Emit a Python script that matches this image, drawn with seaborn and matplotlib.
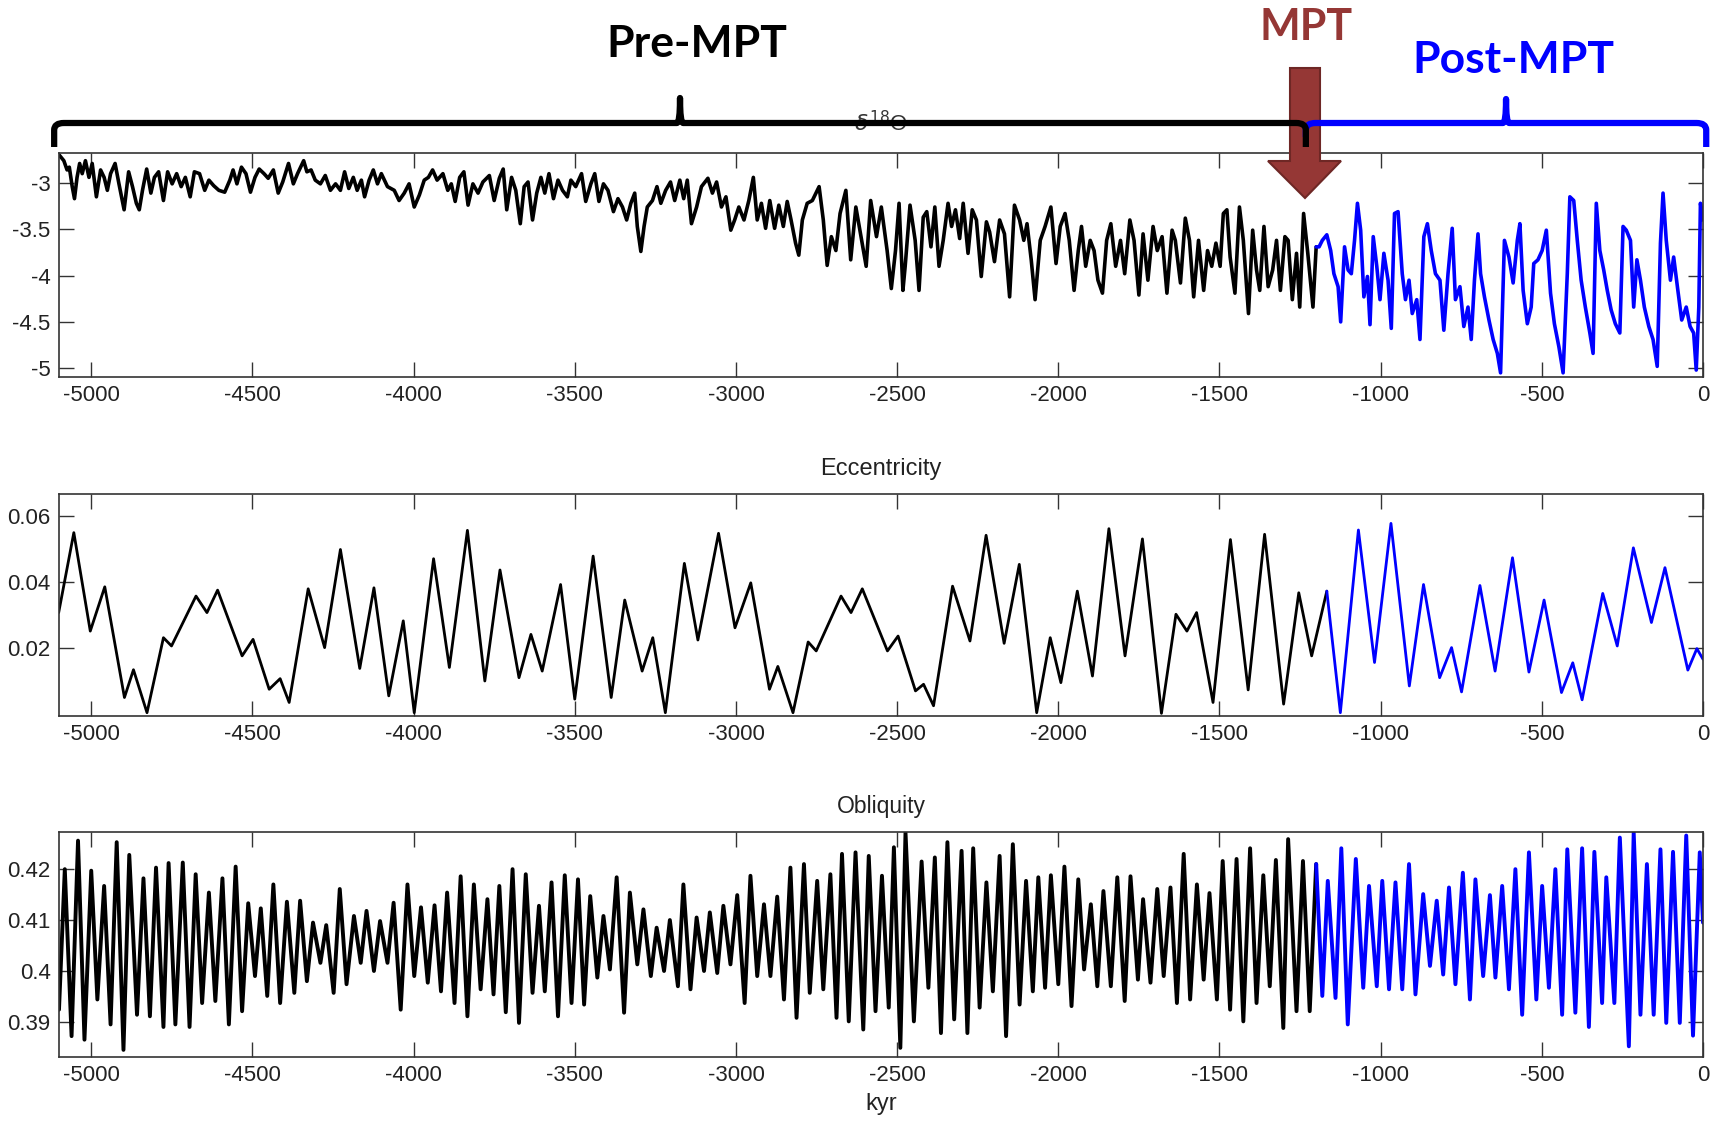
import numpy as np
import pandas as pd
import seaborn as sns
import matplotlib.pyplot as plt
from matplotlib.path import Path
from matplotlib.patches import PathPatch, Polygon
from matplotlib.transforms import blended_transform_factory

# ---- data (kyr before present) ----
MPT_KYR = -1200

d18o_kyr = [-5099, -5085, -5075, -5068, -5059, -5052, -5044, -5036, -5028, -5018, -5007, -4997, -4984, -4971,
            -4960, -4950, -4940, -4926, -4914, -4898, -4884, -4872, -4860, -4851, -4841, -4828, -4815, -4804,
            -4791, -4776, -4763, -4749, -4735, -4721, -4708, -4693, -4680, -4664, -4648, -4635, -4620, -4604,
            -4586, -4570, -4560, -4548, -4534, -4520, -4506, -4492, -4479, -4464, -4451, -4435, -4420, -4406,
            -4388, -4373, -4360, -4341, -4331, -4318, -4305, -4289, -4274, -4258, -4242, -4227, -4214, -4201,
            -4187, -4175, -4162, -4152, -4138, -4125, -4112, -4100, -4081, -4060, -4045, -4029, -4014, -3998,
            -3982, -3967, -3954, -3941, -3927, -3909, -3894, -3883, -3871, -3857, -3844, -3831, -3816, -3800,
            -3785, -3765, -3750, -3734, -3722, -3711, -3696, -3683, -3669, -3657, -3645, -3631, -3618, -3605,
            -3593, -3580, -3566, -3552, -3538, -3523, -3512, -3497, -3479, -3466, -3450, -3438, -3425, -3411,
            -3397, -3380, -3366, -3352, -3339, -3326, -3314, -3306, -3295, -3285, -3275, -3259, -3245, -3233,
            -3218, -3203, -3190, -3174, -3162, -3151, -3138, -3122, -3107, -3087, -3073, -3060, -3045, -3031,
            -3016, -3004, -2991, -2975, -2960, -2946, -2934, -2921, -2908, -2895, -2880, -2867, -2853, -2841,
            -2829, -2815, -2805, -2794, -2779, -2763, -2742, -2729, -2717, -2704, -2690, -2677, -2659, -2644,
            -2628, -2612, -2596, -2582, -2564, -2549, -2531, -2518, -2505, -2494, -2482, -2475, -2460, -2444,
            -2432, -2419, -2408, -2395, -2383, -2370, -2357, -2342, -2331, -2319, -2306, -2295, -2280, -2267,
            -2254, -2239, -2223, -2213, -2198, -2182, -2167, -2151, -2136, -2120, -2107, -2097, -2084, -2072,
            -2056, -2041, -2023, -2007, -1994, -1979, -1966, -1951, -1938, -1928, -1915, -1901, -1889, -1877,
            -1863, -1850, -1837, -1822, -1807, -1794, -1778, -1765, -1750, -1737, -1722, -1706, -1693, -1678,
            -1663, -1647, -1637, -1621, -1606, -1593, -1580, -1565, -1549, -1537, -1524, -1511, -1498, -1488,
            -1477, -1467, -1452, -1438, -1426, -1410, -1397, -1385, -1375, -1362, -1349, -1335, -1323, -1311,
            -1297, -1287, -1274, -1261, -1251, -1239, -1226, -1210, -1200, -1191, -1181, -1167, -1155, -1145,
            -1132, -1124, -1112, -1101, -1091, -1081, -1072, -1062, -1052, -1041, -1033, -1023, -1012, -1002,
            -990, -977, -967, -957, -946, -933, -923, -912, -902, -888, -878, -866, -855, -843, -830, -816,
            -804, -791, -778, -768, -754, -742, -729, -719, -709, -698, -690, -678, -664, -651, -638, -628,
            -616, -602, -589, -576, -568, -558, -545, -533, -525, -512, -499, -486, -473, -461, -447, -434,
            -421, -413, -401, -390, -378, -365, -351, -341, -331, -320, -308, -297, -285, -272, -258, -248,
            -238, -225, -215, -205, -194, -182, -168, -155, -142, -132, -124, -114, -101, -91, -78, -66,
            -52, -40, -29, -21, -13, -8, 0]
d18o_val = [-2.70, -2.76, -2.86, -2.83, -3.04, -3.17, -2.94, -2.79, -2.90, -2.76, -2.94, -2.79, -3.15, -2.86,
            -2.94, -3.08, -2.90, -2.79, -3.01, -3.29, -2.88, -3.04, -3.22, -3.29, -3.08, -2.85, -3.11, -2.94,
            -2.88, -3.19, -2.88, -3.01, -2.90, -3.04, -2.94, -3.15, -2.88, -2.90, -3.08, -2.97, -3.03, -3.08,
            -3.10, -2.97, -2.86, -3.01, -2.83, -2.90, -3.10, -2.94, -2.85, -2.90, -2.95, -2.86, -3.11, -2.99,
            -2.79, -3.01, -2.90, -2.76, -2.88, -2.86, -2.97, -3.01, -2.92, -3.08, -3.01, -3.08, -2.88, -3.06,
            -2.94, -3.08, -2.97, -3.15, -2.97, -2.86, -3.01, -2.90, -3.04, -3.08, -3.19, -3.11, -3.01, -3.26,
            -3.13, -2.97, -2.94, -2.86, -2.97, -2.90, -3.08, -3.01, -3.20, -2.94, -2.88, -3.24, -3.01, -3.11,
            -2.99, -2.92, -3.19, -2.95, -2.85, -3.29, -2.94, -3.08, -3.44, -3.04, -2.99, -3.40, -3.11, -2.94,
            -3.11, -2.90, -3.17, -2.97, -3.08, -3.15, -2.97, -3.04, -2.90, -3.20, -3.01, -2.90, -3.20, -3.01,
            -3.08, -3.31, -3.17, -3.26, -3.40, -3.22, -3.11, -3.47, -3.74, -3.47, -3.26, -3.19, -3.04, -3.22,
            -3.08, -2.99, -3.19, -2.97, -3.17, -2.97, -3.44, -3.26, -3.04, -2.95, -3.11, -2.99, -3.26, -3.15,
            -3.51, -3.40, -3.26, -3.40, -3.19, -2.94, -3.40, -3.22, -3.49, -3.19, -3.49, -3.24, -3.47, -3.20,
            -3.40, -3.65, -3.78, -3.40, -3.22, -3.19, -3.04, -3.40, -3.89, -3.58, -3.73, -3.33, -3.08, -3.83,
            -3.26, -3.58, -3.90, -3.19, -3.58, -3.26, -3.73, -4.14, -3.73, -3.22, -4.16, -3.90, -3.24, -3.62,
            -4.16, -3.37, -3.31, -3.69, -3.26, -3.90, -3.62, -3.22, -3.47, -3.29, -3.60, -3.22, -3.76, -3.29,
            -3.40, -4.01, -3.42, -3.53, -3.85, -3.40, -3.55, -4.23, -3.24, -3.40, -3.62, -3.44, -3.83, -4.26,
            -3.62, -3.47, -3.26, -3.87, -3.47, -3.33, -3.62, -4.16, -3.73, -3.47, -3.90, -3.62, -3.73, -4.05,
            -4.19, -3.62, -3.44, -3.90, -3.62, -3.98, -3.40, -3.62, -4.21, -3.55, -4.05, -3.47, -3.73, -3.58,
            -4.19, -3.51, -3.62, -4.08, -3.38, -3.62, -4.23, -3.62, -4.16, -3.73, -3.90, -3.65, -3.90, -3.33,
            -3.29, -3.80, -4.19, -3.26, -3.62, -4.41, -3.51, -3.94, -4.16, -3.47, -4.12, -3.94, -3.62, -4.16,
            -3.58, -3.62, -4.26, -3.76, -4.34, -3.33, -3.76, -4.34, -3.69, -3.69, -3.62, -3.56, -3.73, -3.98,
            -4.12, -4.50, -3.69, -3.94, -3.98, -3.62, -3.22, -3.51, -4.23, -4.01, -4.53, -3.58, -3.90, -4.26,
            -3.76, -4.05, -4.57, -3.33, -3.31, -3.98, -4.26, -4.05, -4.41, -4.26, -4.69, -3.58, -3.44, -3.73,
            -3.98, -4.05, -4.59, -3.98, -3.49, -4.26, -4.12, -4.55, -4.34, -4.69, -4.05, -3.55, -3.98, -4.23,
            -4.48, -4.69, -4.84, -5.05, -3.62, -3.80, -4.08, -3.62, -3.44, -4.16, -4.52, -4.34, -3.87, -3.83,
            -3.73, -3.51, -4.19, -4.52, -4.77, -5.05, -3.98, -3.15, -3.19, -3.62, -4.05, -4.34, -4.62, -4.84,
            -3.22, -3.73, -3.94, -4.16, -4.37, -4.52, -4.62, -3.47, -3.51, -3.62, -4.34, -3.83, -4.05, -4.34,
            -4.55, -4.69, -4.98, -3.65, -3.11, -3.62, -4.05, -3.80, -4.16, -4.48, -4.34, -4.55, -4.62, -5.02,
            -4.34, -3.22, -3.40]

ecc_kyr = [-5101, -5054, -5003, -4958, -4897, -4869, -4827, -4776, -4751, -4675, -4641, -4608, -4532, -4498,
           -4448, -4414, -4386, -4327, -4276, -4227, -4167, -4123, -4077, -4032, -3998, -3938, -3889, -3833,
           -3779, -3732, -3673, -3636, -3601, -3544, -3500, -3443, -3387, -3345, -3291, -3258, -3219, -3160,
           -3118, -3054, -3003, -2954, -2896, -2870, -2823, -2776, -2751, -2674, -2643, -2608, -2530, -2497,
           -2443, -2418, -2387, -2328, -2274, -2224, -2168, -2121, -2067, -2025, -1992, -1941, -1894, -1843,
           -1793, -1739, -1680, -1635, -1601, -1571, -1520, -1466, -1411, -1360, -1301, -1254, -1214, -1167,
           -1125, -1069, -1019, -968, -911, -867, -817, -780, -749, -692, -645, -591, -540, -493, -439, -404,
           -375, -311, -266, -216, -160, -118, -47, -19, 0]
ecc_val = [0.0308, 0.0550, 0.0252, 0.0386, 0.0051, 0.0135, 0.0005, 0.0232, 0.0207, 0.0358, 0.0308, 0.0376,
           0.0177, 0.0227, 0.0076, 0.0108, 0.0036, 0.0380, 0.0202, 0.0499, 0.0139, 0.0383, 0.0056, 0.0283,
           0.0005, 0.0471, 0.0142, 0.0557, 0.0101, 0.0437, 0.0111, 0.0242, 0.0131, 0.0393, 0.0046, 0.0479,
           0.0051, 0.0346, 0.0131, 0.0232, 0.0005, 0.0457, 0.0225, 0.0548, 0.0262, 0.0398, 0.0076, 0.0145,
           0.0005, 0.0219, 0.0192, 0.0358, 0.0308, 0.0380, 0.0192, 0.0237, 0.0071, 0.0091, 0.0026, 0.0388,
           0.0222, 0.0542, 0.0215, 0.0454, 0.0005, 0.0232, 0.0096, 0.0373, 0.0116, 0.0562, 0.0177, 0.0531,
           0.0003, 0.0303, 0.0252, 0.0308, 0.0036, 0.0529, 0.0074, 0.0545, 0.0031, 0.0368, 0.0177, 0.0373,
           0.0005, 0.0558, 0.0157, 0.0578, 0.0086, 0.0393, 0.0111, 0.0202, 0.0068, 0.0390, 0.0131, 0.0474,
           0.0128, 0.0346, 0.0066, 0.0156, 0.0044, 0.0366, 0.0207, 0.0504, 0.0278, 0.0444, 0.0134, 0.0199,
           0.0167]

obl_peak_kyr = [-5082, -5041, -5000, -4960, -4921, -4882, -4838, -4799, -4760, -4716, -4676, -4635, -4593,
                -4552, -4513, -4474, -4435, -4393, -4352, -4312, -4271, -4229, -4185, -4146, -4104, -4062,
                -4019, -3977, -3935, -3896, -3854, -3813, -3771, -3734, -3693, -3652, -3611, -3572, -3531,
                -3490, -3452, -3411, -3370, -3329, -3287, -3246, -3205, -3163, -3122, -3081, -3039, -2996,
                -2955, -2913, -2872, -2831, -2789, -2748, -2707, -2671, -2629, -2588, -2547, -2510, -2474,
                -2424, -2383, -2344, -2300, -2264, -2223, -2182, -2141, -2100, -2062, -2023, -1981, -1938,
                -1899, -1860, -1817, -1776, -1737, -1693, -1652, -1611, -1570, -1531, -1490, -1447, -1405,
                -1364, -1325, -1287, -1241, -1200, -1164, -1122, -1077, -1036, -995, -954, -912, -868, -826,
                -788, -745, -706, -661, -623, -582, -540, -499, -458, -421, -375, -337, -300, -258, -215,
                -174, -132, -93, -52, -10]
obl_peak_val = [0.4200, 0.4256, 0.4197, 0.4167, 0.4253, 0.4228, 0.4182, 0.4203, 0.4212, 0.4213, 0.4190,
                0.4154, 0.4182, 0.4205, 0.4133, 0.4123, 0.4170, 0.4136, 0.4138, 0.4095, 0.4090, 0.4161,
                0.4108, 0.4118, 0.4098, 0.4134, 0.4170, 0.4125, 0.4129, 0.4154, 0.4186, 0.4170, 0.4141,
                0.4167, 0.4200, 0.4190, 0.4128, 0.4174, 0.4188, 0.4180, 0.4147, 0.4108, 0.4184, 0.4154,
                0.4121, 0.4085, 0.4100, 0.4170, 0.4105, 0.4115, 0.4128, 0.4149, 0.4187, 0.4131, 0.4146,
                0.4203, 0.4210, 0.4177, 0.4190, 0.4230, 0.4233, 0.4226, 0.4187, 0.4243, 0.4272, 0.4215,
                0.4223, 0.4253, 0.4236, 0.4241, 0.4174, 0.4226, 0.4249, 0.4177, 0.4184, 0.4188, 0.4205,
                0.4180, 0.4131, 0.4157, 0.4184, 0.4186, 0.4141, 0.4161, 0.4164, 0.4230, 0.4170, 0.4153,
                0.4216, 0.4220, 0.4241, 0.4188, 0.4218, 0.4259, 0.4216, 0.4210, 0.4177, 0.4241, 0.4220,
                0.4167, 0.4177, 0.4174, 0.4210, 0.4151, 0.4138, 0.4164, 0.4193, 0.4180, 0.4149, 0.4167,
                0.4200, 0.4233, 0.4167, 0.4200, 0.4239, 0.4241, 0.4234, 0.4184, 0.4262, 0.4272, 0.4210,
                0.4239, 0.4234, 0.4266, 0.4233]
obl_trough_kyr = [-5100, -5061, -5021, -4981, -4940, -4900, -4858, -4818, -4776, -4739, -4695, -4656, -4615,
                  -4573, -4532, -4492, -4454, -4414, -4370, -4331, -4289, -4248, -4208, -4164, -4123, -4081,
                  -4040, -3998, -3956, -3915, -3873, -3833, -3792, -3752, -3714, -3673, -3631, -3593, -3552,
                  -3510, -3471, -3430, -3391, -3347, -3306, -3264, -3223, -3180, -3141, -3099, -3058, -3017,
                  -2973, -2934, -2893, -2851, -2812, -2771, -2729, -2688, -2650, -2605, -2567, -2526, -2490,
                  -2448, -2403, -2364, -2323, -2282, -2244, -2203, -2162, -2120, -2079, -2041, -2000, -1959,
                  -1920, -1879, -1837, -1794, -1753, -1714, -1673, -1632, -1591, -1549, -1508, -1467, -1426,
                  -1385, -1344, -1302, -1261, -1220, -1181, -1140, -1102, -1054, -1012, -974, -933, -892,
                  -847, -806, -768, -723, -682, -644, -602, -561, -517, -478, -437, -396, -354, -313, -275,
                  -230, -194, -153, -114, -72, -31, 0]
obl_trough_val = [0.3924, 0.3872, 0.3865, 0.3944, 0.3895, 0.3845, 0.3914, 0.3911, 0.3890, 0.3895, 0.3890,
                  0.3937, 0.3941, 0.3895, 0.3921, 0.3990, 0.3951, 0.3937, 0.3957, 0.3980, 0.4016, 0.3957,
                  0.3974, 0.4016, 0.4000, 0.4016, 0.3924, 0.3990, 0.3977, 0.3960, 0.3937, 0.3911, 0.3964,
                  0.3954, 0.3919, 0.3898, 0.3957, 0.3960, 0.3911, 0.3937, 0.3934, 0.3987, 0.4003, 0.3918,
                  0.4013, 0.3990, 0.4000, 0.3970, 0.3964, 0.4000, 0.3996, 0.4013, 0.3937, 0.3990, 0.3990,
                  0.3944, 0.3908, 0.3957, 0.3964, 0.3908, 0.3901, 0.3885, 0.3921, 0.3928, 0.3849, 0.3901,
                  0.3967, 0.3878, 0.3905, 0.3878, 0.3928, 0.3960, 0.3872, 0.3934, 0.3960, 0.3967, 0.3974,
                  0.3931, 0.4003, 0.3970, 0.3970, 0.3941, 0.3983, 0.3977, 0.3990, 0.3937, 0.3944, 0.3983,
                  0.3944, 0.3924, 0.3901, 0.3937, 0.3970, 0.3888, 0.3921, 0.3921, 0.3951, 0.3947, 0.3895,
                  0.3967, 0.3970, 0.3964, 0.3964, 0.3954, 0.4010, 0.3993, 0.3974, 0.3944, 0.3990, 0.3987,
                  0.3964, 0.3914, 0.3944, 0.3967, 0.3914, 0.3918, 0.3890, 0.3937, 0.3937, 0.3852, 0.3914,
                  0.3914, 0.3898, 0.3898, 0.3873, 0.4095]

x_ticks = [-5000, -4500, -4000, -3500, -3000, -2500, -2000, -1500, -1000, -500, 0]
x_tick_labels = ['-5000', '-4500', '-4000', '-3500', '-3000', '-2500', '-2000', '-1500', '-1000', '-500', '0']
d18o_ticks = [-5, -4.5, -4, -3.5, -3]
d18o_tick_labels = ['-5', '-4.5', '-4', '-3.5', '-3']
ecc_ticks = [0.02, 0.04, 0.06]
ecc_tick_labels = ['0.02', '0.04', '0.06']
obl_ticks = [0.39, 0.40, 0.41, 0.42]
obl_tick_labels = ['0.39', '0.4', '0.41', '0.42']

# ---- style ----
sns.set_theme(style='white')
plt.rcParams['font.family'] = ['Liberation Sans', 'DejaVu Sans']
plt.rcParams['axes.unicode_minus'] = False

W, H = 1721, 1123
fig = plt.figure(figsize=(W / 100, H / 100), dpi=100)
fig.patch.set_facecolor('white')

L, R = 59 / W, 1703 / W
ax1 = fig.add_axes([L, 1 - 377 / H, R - L, 224 / H])
ax2 = fig.add_axes([L, 1 - 716 / H, R - L, 222 / H])
ax3 = fig.add_axes([L, 1 - 1057 / H, R - L, 225 / H])

BLUE = '#0000ff'


def draw_split(ax, kyr, val, lw):
    df = pd.DataFrame({'kyr': kyr, 'val': val}).sort_values('kyr').reset_index(drop=True)
    i = int(np.searchsorted(df['kyr'].values, MPT_KYR))
    sns.lineplot(data=df.iloc[:i + 1], x='kyr', y='val', ax=ax, color='black',
                 linewidth=lw, sort=False, estimator=None)
    sns.lineplot(data=df.iloc[i:], x='kyr', y='val', ax=ax, color=BLUE,
                 linewidth=lw, sort=False, estimator=None)


draw_split(ax1, d18o_kyr, d18o_val, 2.6)
draw_split(ax2, ecc_kyr, ecc_val, 2.0)
draw_split(ax3, obl_peak_kyr + obl_trough_kyr, obl_peak_val + obl_trough_val, 2.8)

ax1.set_ylim(-5.095, -2.677)
ax2.set_ylim(-0.0005, 0.0667)
ax3.set_ylim(0.3831, 0.4273)
ax1.set_yticks(d18o_ticks, d18o_tick_labels)
ax2.set_yticks(ecc_ticks, ecc_tick_labels)
ax3.set_yticks(obl_ticks, obl_tick_labels)

for ax in (ax1, ax2, ax3):
    ax.set_xlim(-5100, 0)
    ax.set_xticks(x_ticks, x_tick_labels)
    ax.tick_params(direction='in', length=11, width=1, color='#333333',
                   top=True, right=True, bottom=True, left=True,
                   labelsize=16, labelcolor='#222222')
    ax.tick_params(axis='x', pad=6)
    ax.tick_params(axis='y', pad=6)
    for s in ax.spines.values():
        s.set_linewidth(1.2)
        s.set_color('#333333')
    ax.set_xlabel('')
    ax.set_ylabel('')

ax1.set_title(r'$\delta^{18}$O', fontsize=16, color='#333333', pad=16)
ax2.set_title('Eccentricity', fontsize=17, color='#222222', pad=14)
ax3.set_title('Obliquity', fontsize=16.5, color='#222222', pad=14)
ax3.set_xlabel('kyr', fontsize=17, color='#222222', labelpad=5)

# ---- annotation layer in pixel units ----
ov = fig.add_axes([0, 0, 1, 1], zorder=10)
ov.axis('off')

mpt_arrow = Polygon([(1290, 68), (1320, 68), (1320, 161), (1341, 161), (1305, 198),
                     (1268, 161), (1290, 161)], closed=True,
                    facecolor='#953735', edgecolor='#6e2725', lw=1.5, zorder=1)
ov.add_patch(mpt_arrow)

tr = blended_transform_factory(ax1.transData, ov.transData)


def brace(x0, x1, y_line, y_end0, y_end1, y_tip, color, r=30, rm=10):
    xm = (x0 + x1) / 2
    verts = [(x0, y_end0), (x0, y_line + 7), (x0, y_line), (x0 + r, y_line),
             (xm - rm, y_line), (xm, y_line), (xm, y_tip),
             (xm, y_line), (xm + rm, y_line),
             (x1 - r, y_line), (x1, y_line), (x1, y_line + 7), (x1, y_end1)]
    codes = [Path.MOVETO, Path.LINETO, Path.CURVE3, Path.CURVE3, Path.LINETO,
             Path.CURVE3, Path.CURVE3, Path.CURVE3, Path.CURVE3, Path.LINETO,
             Path.CURVE3, Path.CURVE3, Path.LINETO]
    patch = PathPatch(Path(verts, codes), facecolor='none', edgecolor=color, lw=4.5,
                      transform=tr, clip_on=False, capstyle='butt', joinstyle='round', zorder=3)
    ov.add_patch(patch)


brace(-1232, 10, 123, 137, 147, 99, BLUE)
brace(-5115, -1232, 123, 147, 147, 98, 'black')

label_font = ['Lato', 'Liberation Sans', 'DejaVu Sans']
ov.text(697, 44, 'Pre-MPT', ha='center', va='center', fontsize=32, fontweight='bold',
        color='black', family=label_font)
ov.text(1306, 27, 'MPT', ha='center', va='center', fontsize=31, fontweight='bold',
        color='#953735', family=label_font)
ov.text(1513, 60, 'Post-MPT', ha='center', va='center', fontsize=32, fontweight='bold',
        color=BLUE, family=label_font)

ov.set_xlim(0, W)
ov.set_ylim(H, 0)

fig.savefig('out.png', dpi=100)
